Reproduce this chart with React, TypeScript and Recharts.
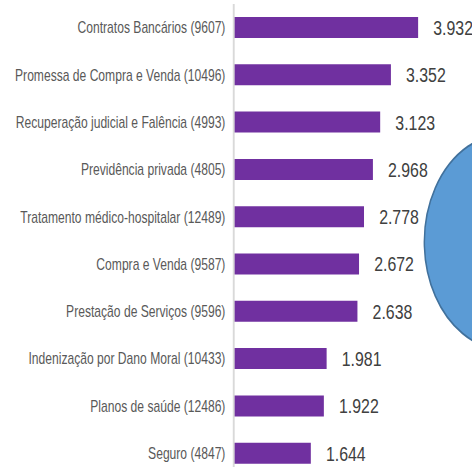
import React from 'react';
import { BarChart, Bar, XAxis, YAxis, LabelList, PieChart, Pie, Cell } from 'recharts';

const categories = [
  'Contratos Bancários (9607)',
  'Promessa de Compra e Venda (10496)',
  'Recuperação judicial e Falência (4993)',
  'Previdência privada (4805)',
  'Tratamento médico-hospitalar (12489)',
  'Compra e Venda (9587)',
  'Prestação de Serviços (9596)',
  'Indenização por Dano Moral (10433)',
  'Planos de saúde (12486)',
  'Seguro (4847)',
];
const values = [3932, 3352, 3123, 2968, 2778, 2672, 2638, 1981, 1922, 1644];
const circleData = [{ name: 'circle', value: 1 }];

const data = categories.map((name, i) => ({ name, value: values[i] }));

const fmt = (v: number) => String(v).replace(/\B(?=(\d{3})+(?!\d))/g, '.');

const SCALE = 0.7564;
const W = 624;
const H = 480;
const FONT = 'Liberation Sans, Arial, sans-serif';

export default function App() {
  return (
    <div style={{ position: 'fixed', left: 0, top: 0, width: 472, height: 467, overflow: 'hidden', background: '#fff' }}>
      <div style={{ position: 'relative', width: W, height: H, transform: `scaleX(${SCALE})`, transformOrigin: '0 0' }}>
        <div style={{ position: 'absolute', left: 0, top: 0 }}>
          <BarChart
            layout="vertical"
            width={W}
            height={H}
            data={data}
            margin={{ top: 4, right: 5, left: 0, bottom: 3 }}
          >
            <XAxis type="number" domain={[0, 5000]} hide />
            <YAxis
              type="category"
              dataKey="name"
              width={309}
              tickLine={false}
              tickMargin={5}
              axisLine={{ stroke: '#D9D9D9', strokeWidth: 2.5 }}
              tick={{ fill: '#595959', fontSize: 16, fontFamily: FONT }}
              interval={0}
            />
            <Bar dataKey="value" fill="#7030A0" barSize={21} isAnimationActive={false}>
              <LabelList
                dataKey="value"
                position="right"
                offset={20}
                formatter={(v: any) => fmt(Number(v))}
                style={{ fill: '#404040', fontSize: 21, fontFamily: FONT }}
              />
            </Bar>
          </BarChart>
        </div>
        <div style={{ position: 'absolute', left: 0, top: 0 }}>
          <PieChart width={W} height={H}>
            <Pie
              data={circleData}
              dataKey="value"
              cx={664}
              cy={237}
              outerRadius={108}
              innerRadius={0}
              startAngle={90}
              endAngle={450}
              stroke="#41719C"
              strokeWidth={2}
              isAnimationActive={false}
            >
              <Cell fill="#5B9BD5" />
            </Pie>
          </PieChart>
        </div>
      </div>
    </div>
  );
}
